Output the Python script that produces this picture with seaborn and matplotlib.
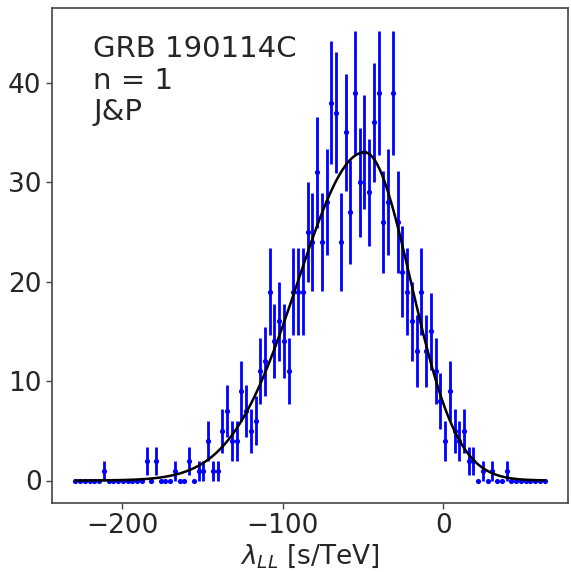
import numpy as np
import pandas as pd
import matplotlib
matplotlib.use("Agg")
import matplotlib.pyplot as plt
import seaborn as sns

# ---- data ----
bin_start = -229.0      # centre of the first bin [s/TeV]
bin_width = 2.95        # bin width [s/TeV]
counts = [
    0, 0, 0, 0, 0, 0, 1, 0, 0, 0,
    0, 0, 0, 0, 0, 2, 0, 2, 0, 0,
    0, 1, 0, 0, 2, 0, 1, 1, 4, 1,
    1, 5, 7, 4, 4, 9, 7, 5, 6, 11,
    12, 19, 14, 16, 14, 11, 19, 19, 19, 25,
    24, 31, 24, 28, 38, 37, 24, 35, 27, 39,
    30, 33, 29, 36, 39, 26, 28, 39, 26, 21,
    19, 16, 13, 19, 13, 15, 11, 8, 4, 9,
    5, 4, 5, 2, 2, 0, 1, 0, 1, 0,
    0, 1, 0, 0, 0, 0, 0, 0, 0, 0,
]
# fitted curve (asymmetric peak)
fit_amp = 33.0
fit_peak = -49.0
fit_sigma_left = 41.5
fit_sigma_right = 28.8
annot_lines = ["GRB 190114C", "n = 1", "J&P"]
x_label = r"$\lambda_{LL}$ [s/TeV]"
x_ticks = [-200, -100, 0]
y_ticks = [0, 10, 20, 30, 40]

centres = bin_start + bin_width * np.arange(len(counts))
df = pd.DataFrame({"x": centres, "n": counts})
df["err"] = np.sqrt(df["n"])
xf = np.linspace(centres[0], centres[-1], 500)
sig = np.where(xf < fit_peak, fit_sigma_left, fit_sigma_right)
fit_df = pd.DataFrame({"x": xf,
                       "y": fit_amp * np.exp(-(xf - fit_peak) ** 2 / (2 * sig ** 2))})

sns.set_style("ticks")
plt.rcParams["font.family"] = ["DejaVu Sans"]
plt.rcParams["mathtext.fontset"] = "dejavusans"

fig = plt.figure(figsize=(5.71, 5.72), dpi=100)
ax = fig.add_axes([52 / 571, 1 - 503 / 572, 516 / 571, 495 / 572])

ax.errorbar(df["x"], df["n"], yerr=df["err"], fmt="none", ecolor="#0000ff",
            elinewidth=2.0, capsize=0, zorder=2)
sns.scatterplot(data=df, x="x", y="n", color="#0000ff", s=14, linewidth=0,
                ax=ax, zorder=3)
sns.lineplot(data=fit_df, x="x", y="y", color="black", linewidth=1.8, ax=ax,
             zorder=4)

ax.set_xticks(x_ticks)
ax.set_yticks(y_ticks)
ax.tick_params(labelsize=19, length=4, width=1, color="#444444")
for s in ax.spines.values():
    s.set_color("#444444")
    s.set_linewidth(1.2)
ax.set_xlabel(x_label, fontsize=19, labelpad=2)
ax.set_ylabel("")
ax.text(0.08, 0.945, "\n".join(annot_lines), transform=ax.transAxes,
        fontsize=21, va="top", ha="left", linespacing=1.15)

fig.savefig("out.png", dpi=100)
